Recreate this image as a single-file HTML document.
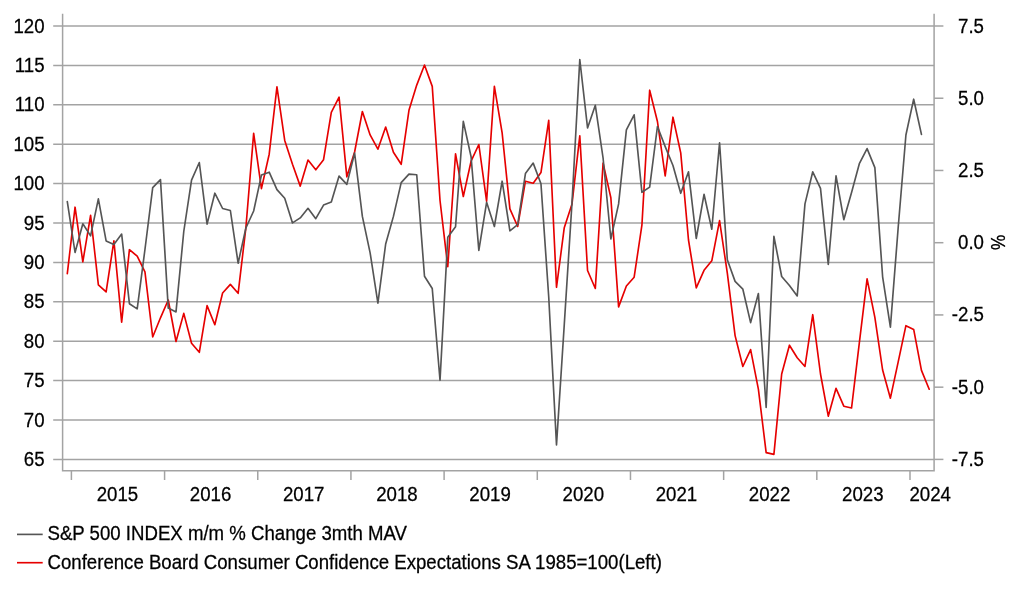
<!DOCTYPE html>
<html><head><meta charset="utf-8"><title>Chart</title>
<style>html,body{margin:0;padding:0;background:#fff;overflow:hidden}svg{display:block}text{font-family:"Liberation Sans",Arial,sans-serif;font-size:18.67px;fill:#000;stroke:#000;stroke-width:0.25px}</style></head>
<body>
<svg width="1022" height="597" viewBox="0 0 1022 597">
<rect width="1022" height="597" fill="#fff"/>
<g stroke="#a3a3a3" stroke-width="1.5" fill="none">
<line x1="53.2" y1="26.00" x2="934.1" y2="26.00"/>
<line x1="53.2" y1="65.40" x2="934.1" y2="65.40"/>
<line x1="53.2" y1="104.80" x2="934.1" y2="104.80"/>
<line x1="53.2" y1="144.20" x2="934.1" y2="144.20"/>
<line x1="53.2" y1="183.60" x2="934.1" y2="183.60"/>
<line x1="53.2" y1="223.00" x2="934.1" y2="223.00"/>
<line x1="53.2" y1="262.40" x2="934.1" y2="262.40"/>
<line x1="53.2" y1="301.80" x2="934.1" y2="301.80"/>
<line x1="53.2" y1="341.20" x2="934.1" y2="341.20"/>
<line x1="53.2" y1="380.60" x2="934.1" y2="380.60"/>
<line x1="53.2" y1="420.00" x2="934.1" y2="420.00"/>
<line x1="53.2" y1="459.40" x2="934.1" y2="459.40"/>
<line x1="934.1" y1="26.00" x2="943.4" y2="26.00"/>
<line x1="934.1" y1="98.23" x2="943.4" y2="98.23"/>
<line x1="934.1" y1="170.47" x2="943.4" y2="170.47"/>
<line x1="934.1" y1="242.70" x2="943.4" y2="242.70"/>
<line x1="934.1" y1="314.93" x2="943.4" y2="314.93"/>
<line x1="934.1" y1="387.17" x2="943.4" y2="387.17"/>
<line x1="934.1" y1="459.40" x2="943.4" y2="459.40"/>
<path d="M62.6,13.8 V470.85 H934.1 V13.8"/>
<line x1="71.40" y1="470.85" x2="71.40" y2="480.0"/>
<line x1="164.58" y1="470.85" x2="164.58" y2="480.0"/>
<line x1="257.76" y1="470.85" x2="257.76" y2="480.0"/>
<line x1="350.93" y1="470.85" x2="350.93" y2="480.0"/>
<line x1="444.11" y1="470.85" x2="444.11" y2="480.0"/>
<line x1="537.29" y1="470.85" x2="537.29" y2="480.0"/>
<line x1="630.47" y1="470.85" x2="630.47" y2="480.0"/>
<line x1="723.64" y1="470.85" x2="723.64" y2="480.0"/>
<line x1="816.82" y1="470.85" x2="816.82" y2="480.0"/>
<line x1="910.00" y1="470.85" x2="910.00" y2="480.0"/>
</g>
<polyline points="67.30,273.6 75.06,207.2 82.83,261.8 90.59,215.3 98.36,284.9 106.12,291.9 113.89,240.9 121.66,322.2 129.42,249.7 137.19,256.2 144.95,271.8 152.71,337.0 160.48,317.8 168.25,300.0 176.01,341.5 183.77,313.4 191.54,343.3 199.31,352.3 207.07,305.6 214.83,324.7 222.60,293.0 230.37,284.4 238.13,293.3 245.89,227.7 253.66,133.4 261.43,188.6 269.19,154.2 276.95,86.9 284.72,140.4 292.49,164.3 300.25,186.1 308.01,160.0 315.78,169.8 323.55,159.7 331.31,112.3 339.07,97.2 346.84,176.8 354.61,152.0 362.37,111.5 370.13,134.9 377.90,149.2 385.67,127.1 393.43,152.2 401.19,164.3 408.96,110.3 416.73,85.1 424.49,65.0 432.25,86.4 440.02,200.5 447.78,266.7 455.55,153.8 463.31,196.5 471.08,161.2 478.84,144.5 486.61,201.3 494.38,86.4 502.14,132.9 509.90,208.9 517.67,226.5 525.43,181.2 533.20,183.2 540.96,172.6 548.73,120.4 556.50,287.3 564.26,227.7 572.02,203.9 579.79,135.9 587.55,270.5 595.32,288.5 603.08,163.1 610.85,197.7 618.61,306.9 626.38,286.0 634.14,277.2 641.91,225.2 649.67,90.2 657.44,121.5 665.20,176.0 672.97,117.2 680.73,152.9 688.50,240.0 696.26,287.9 704.03,270.3 711.79,260.8 719.56,220.6 727.32,273.2 735.09,335.6 742.85,366.5 750.62,349.6 758.38,389.1 766.15,452.6 773.91,454.4 781.68,374.0 789.44,345.2 797.21,357.8 804.97,366.5 812.74,314.7 820.50,374.0 828.27,416.2 836.03,388.3 843.80,406.2 851.56,408.0 859.33,342.8 867.09,278.9 874.86,317.4 882.62,370.0 890.39,398.2 898.15,362.2 905.92,325.7 913.68,329.4 921.45,370.4 929.21,389.2" fill="none" stroke="#e60000" stroke-width="1.65" stroke-linejoin="round" stroke-linecap="round" stroke-miterlimit="4"/>
<polyline points="67.30,201.6 75.06,252.5 82.83,223.8 90.59,235.9 98.36,198.9 106.12,240.9 113.89,244.4 121.66,234.1 129.42,303.7 137.19,308.9 144.95,249.5 152.71,187.6 160.48,179.6 168.25,308.1 176.01,311.9 183.77,231.5 191.54,180.1 199.31,162.5 207.07,224.1 214.83,193.2 222.60,208.5 230.37,210.5 238.13,263.2 245.89,228.0 253.66,211.0 261.43,175.1 269.19,172.2 276.95,189.6 284.72,198.3 292.49,222.9 300.25,217.9 308.01,208.3 315.78,218.7 323.55,205.1 331.31,202.0 339.07,176.1 346.84,184.4 354.61,153.0 362.37,216.4 370.13,252.8 377.90,303.1 385.67,244.0 393.43,216.4 401.19,182.6 408.96,174.1 416.73,174.8 424.49,276.2 432.25,288.5 440.02,380.3 447.78,237.3 455.55,226.7 463.31,121.4 471.08,156.8 478.84,250.4 486.61,202.3 494.38,226.5 502.14,181.2 509.90,230.8 517.67,224.7 525.43,173.6 533.20,163.1 540.96,183.8 548.73,297.0 556.50,444.9 564.26,324.8 572.02,202.5 579.79,59.5 587.55,127.9 595.32,105.3 603.08,158.0 610.85,239.0 618.61,203.9 626.38,129.9 634.14,114.8 641.91,192.3 649.67,187.1 657.44,126.5 665.20,146.6 672.97,165.5 680.73,193.3 688.50,171.8 696.26,238.5 704.03,194.3 711.79,229.2 719.56,142.8 727.32,259.7 735.09,281.4 742.85,289.2 750.62,322.6 758.38,293.5 766.15,407.4 773.91,236.3 781.68,276.5 789.44,285.5 797.21,296.0 804.97,203.9 812.74,171.8 820.50,188.4 828.27,264.5 836.03,175.8 843.80,219.7 851.56,192.6 859.33,163.7 867.09,148.6 874.86,167.6 882.62,276.8 890.39,327.1 898.15,228.0 905.92,135.0 913.68,99.2 921.45,134.4" fill="none" stroke="#555555" stroke-width="1.65" stroke-linejoin="round" stroke-linecap="round" stroke-miterlimit="4"/>
<g>
<text transform="translate(44.60,33.00) scale(1,1.08)" text-anchor="end">120</text>
<text transform="translate(44.60,72.00) scale(1,1.08)" text-anchor="end">115</text>
<text transform="translate(44.60,111.00) scale(1,1.08)" text-anchor="end">110</text>
<text transform="translate(44.60,151.00) scale(1,1.08)" text-anchor="end">105</text>
<text transform="translate(44.60,190.00) scale(1,1.08)" text-anchor="end">100</text>
<text transform="translate(44.60,230.00) scale(1,1.08)" text-anchor="end">95</text>
<text transform="translate(44.60,269.00) scale(1,1.08)" text-anchor="end">90</text>
<text transform="translate(44.60,308.00) scale(1,1.08)" text-anchor="end">85</text>
<text transform="translate(44.60,348.00) scale(1,1.08)" text-anchor="end">80</text>
<text transform="translate(44.60,387.00) scale(1,1.08)" text-anchor="end">75</text>
<text transform="translate(44.60,427.00) scale(1,1.08)" text-anchor="end">70</text>
<text transform="translate(44.60,466.00) scale(1,1.08)" text-anchor="end">65</text>
<text transform="translate(984.00,33.00) scale(1,1.08)" text-anchor="end">7.5</text>
<text transform="translate(984.00,105.00) scale(1,1.08)" text-anchor="end">5.0</text>
<text transform="translate(984.00,177.00) scale(1,1.08)" text-anchor="end">2.5</text>
<text transform="translate(984.00,249.00) scale(1,1.08)" text-anchor="end">0.0</text>
<text transform="translate(984.00,321.00) scale(1,1.08)" text-anchor="end">-2.5</text>
<text transform="translate(984.00,394.00) scale(1,1.08)" text-anchor="end">-5.0</text>
<text transform="translate(984.00,466.00) scale(1,1.08)" text-anchor="end">-7.5</text>
</g>
<g>
<text transform="translate(117.39,501.00) scale(1,1.08)" text-anchor="middle">2015</text>
<text transform="translate(210.57,501.00) scale(1,1.08)" text-anchor="middle">2016</text>
<text transform="translate(303.74,501.00) scale(1,1.08)" text-anchor="middle">2017</text>
<text transform="translate(396.92,501.00) scale(1,1.08)" text-anchor="middle">2018</text>
<text transform="translate(490.10,501.00) scale(1,1.08)" text-anchor="middle">2019</text>
<text transform="translate(583.28,501.00) scale(1,1.08)" text-anchor="middle">2020</text>
<text transform="translate(676.46,501.00) scale(1,1.08)" text-anchor="middle">2021</text>
<text transform="translate(769.63,501.00) scale(1,1.08)" text-anchor="middle">2022</text>
<text transform="translate(862.81,501.00) scale(1,1.08)" text-anchor="middle">2023</text>
<text transform="translate(930.20,501.00) scale(1,1.08)" text-anchor="middle">2024</text>
<text transform="translate(991.40,242.50) rotate(90) scale(0.92,1.12)" text-anchor="middle">%</text>
</g>
<line x1="17.0" y1="534.4" x2="42.7" y2="534.4" stroke="#555555" stroke-width="1.65"/>
<line x1="17.0" y1="562.7" x2="42.7" y2="562.7" stroke="#e60000" stroke-width="1.65"/>
<text transform="translate(47.50,540.30) scale(0.9985,1.055)">S&amp;P 500 INDEX m/m % Change 3mth MAV</text>
<text transform="translate(47.50,569.10) scale(0.9985,1.055)">Conference Board Consumer Confidence Expectations SA 1985=100(Left)</text>
</svg>
</body></html>
